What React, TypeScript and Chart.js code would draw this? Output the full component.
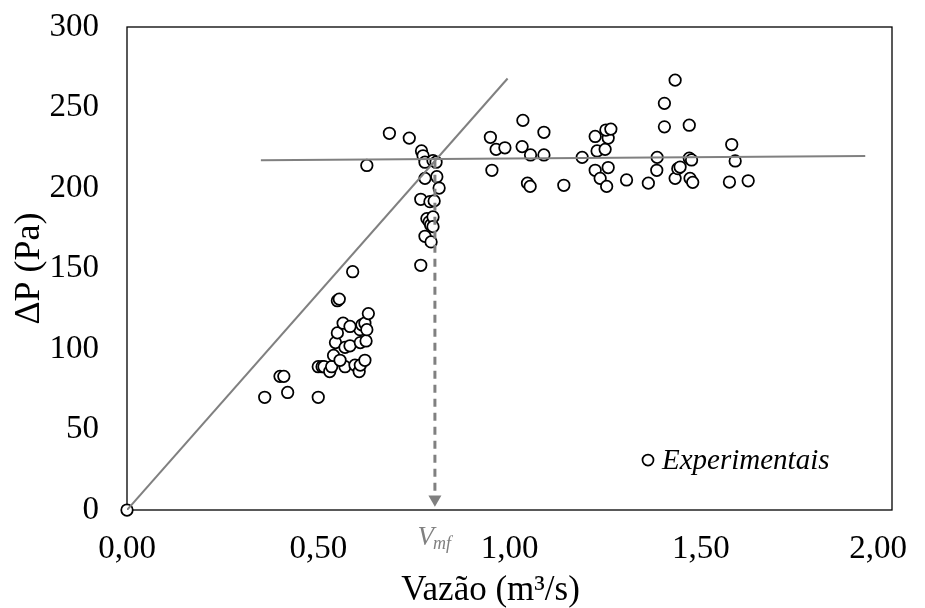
import React, { useEffect, useRef } from 'react';
import { Chart, registerables } from 'chart.js';

Chart.register(...registerables);

// Experimental points (flow rate m3/s, pressure drop Pa)
const expX = [
  0.0, 0.36, 0.40, 0.41, 0.42, 0.50, 0.50, 0.51, 0.515, 0.53, 0.535, 0.54, 0.545, 0.55, 0.55, 0.555,
  0.565, 0.57, 0.57, 0.557, 0.583, 0.59, 0.596, 0.607, 0.61, 0.622, 0.61, 0.625, 0.609, 0.614, 0.622,
  0.627, 0.631, 0.583, 0.627, 0.686, 0.738, 0.768, 0.77, 0.774, 0.779, 0.80, 0.808, 0.81, 0.779, 0.816,
  0.768, 0.792, 0.803, 0.784, 0.79, 0.794, 0.80, 0.80, 0.779, 0.795,
  0.95, 0.954, 0.965, 0.988, 1.035, 1.033, 1.055, 1.047, 1.054, 1.09, 1.09, 1.142, 1.19, 1.224, 1.229,
  1.224, 1.237, 1.254, 1.258, 1.25, 1.258, 1.252, 1.265, 1.306, 1.363, 1.385, 1.386, 1.405, 1.405,
  1.433, 1.433, 1.44, 1.446, 1.47, 1.47, 1.476, 1.472, 1.479, 1.581, 1.59, 1.575, 1.624,
];
const expY = [
  0, 70, 83, 83, 73, 70, 89, 89, 89, 86, 89, 96, 104, 110, 130, 131,
  116, 101, 89, 93, 102, 148, 90, 86, 90, 93, 104, 105, 112, 115, 116,
  112, 122, 114, 214, 234, 231, 152, 223, 220, 216, 217, 216, 207, 206, 200,
  193, 191.5, 192, 181, 179, 177, 182, 176, 170, 166.5,
  231.5, 211, 224, 225, 242, 225.7, 220.5, 203, 201, 234.6, 220.5, 201.7, 219, 232, 223,
  211, 206, 201, 212.7, 224, 231, 236, 236.6, 205, 203, 211, 219, 238, 252.6,
  267, 206, 212, 213, 239, 218.5, 217.4, 206, 203.5, 227, 216.8, 203.7, 204.5,
];

// Fitted lines
const linearX = [0, 0.995];
const linearY = [0, 268];
const plateauX = [0.35, 1.93];
const plateauY = [217.3, 219.8];

// Minimum fluidization flow marker
const vmfX = 0.805;
const vmfLineY = [217, 12];
const vmfArrowY = 6.7;

const xTicks = [0, 0.5, 1.0, 1.5, 2.0];
const yTicks = [0, 50, 100, 150, 200, 250, 300];
const xTitle = 'Vazão (m³/s)';
const yTitle = 'ΔP (Pa)';

const SERIF = "'Liberation Serif', 'Times New Roman', serif";
const GRAY = '#808080';

const pts = (xs: number[], ys: number[]) => xs.map((x, i) => ({ x, y: ys[i] }));
const fmtX = (v: number) => v.toFixed(2).replace('.', ',');

const decorPlugin = {
  id: 'decor',
  beforeDatasetsDraw(chart: any) {
    const { ctx, chartArea: a } = chart;
    ctx.save();
    ctx.strokeStyle = '#000';
    ctx.lineWidth = 1.3;
    ctx.strokeRect(a.left, a.top, a.right - a.left, a.bottom - a.top);
    ctx.restore();
  },
  afterDraw(chart: any) {
    const { ctx, chartArea: a, scales, width } = chart;
    ctx.save();
    // X tick labels (last one kept inside the canvas, as the spreadsheet does)
    ctx.fillStyle = '#000';
    ctx.font = `33px ${SERIF}`;
    ctx.textBaseline = 'middle';
    ctx.textAlign = 'left';
    xTicks.forEach((v) => {
      const label = fmtX(v);
      const w = ctx.measureText(label).width;
      let left = scales.x.getPixelForValue(v) - w / 2;
      if (left + w > width - 10) left = width - 10 - w;
      ctx.fillText(label, left, a.bottom + 39);
    });
    // X title
    ctx.font = `35px ${SERIF}`;
    ctx.textAlign = 'center';
    ctx.fillText(xTitle, (a.left + a.right) / 2 - 19, a.bottom + 81);
    // Vmf label
    const xp = scales.x.getPixelForValue(vmfX);
    ctx.fillStyle = GRAY;
    ctx.textBaseline = 'alphabetic';
    ctx.font = `italic 27px ${SERIF}`;
    ctx.textAlign = 'right';
    ctx.fillText('V', xp - 1, a.bottom + 35);
    ctx.font = `italic 18px ${SERIF}`;
    ctx.textAlign = 'left';
    ctx.fillText('mf', xp - 2, a.bottom + 39);
    // Legend
    const ds = chart.data.datasets.find((d: any) => d.label === 'Experimentais');
    const cx = a.right - 244;
    const cy = a.bottom - 50;
    ctx.beginPath();
    ctx.arc(cx, cy, 5.5, 0, Math.PI * 2);
    ctx.fillStyle = '#fff';
    ctx.fill();
    ctx.lineWidth = 1.75;
    ctx.strokeStyle = '#000';
    ctx.stroke();
    ctx.fillStyle = '#000';
    ctx.font = `italic 29px ${SERIF}`;
    ctx.textAlign = 'left';
    ctx.textBaseline = 'middle';
    ctx.fillText(ds ? ds.label : '', cx + 14, cy + 1);
    ctx.restore();
  },
};

export default function App() {
  const ref = useRef<HTMLCanvasElement | null>(null);
  useEffect(() => {
    document.documentElement.style.overflow = 'hidden';
    document.body.style.overflow = 'hidden';
    if (!ref.current) return;
    const chart = new Chart(ref.current, {
      type: 'scatter',
      data: {
        datasets: [
          {
            type: 'line',
            label: 'linear',
            data: pts(linearX, linearY),
            borderColor: GRAY,
            borderWidth: 2,
            pointRadius: 0,
            fill: false,
          } as any,
          {
            type: 'line',
            label: 'plateau',
            data: pts(plateauX, plateauY),
            borderColor: GRAY,
            borderWidth: 2,
            pointRadius: 0,
            fill: false,
          } as any,
          {
            type: 'line',
            label: 'vmf',
            data: pts([vmfX, vmfX], vmfLineY),
            borderColor: GRAY,
            borderWidth: 3,
            borderDash: [8, 6],
            pointRadius: 0,
            fill: false,
          } as any,
          {
            label: 'arrow',
            data: [{ x: vmfX, y: vmfArrowY }],
            pointStyle: 'triangle',
            rotation: 180,
            pointRadius: 7.5,
            backgroundColor: GRAY,
            borderColor: GRAY,
            borderWidth: 0,
          } as any,
          {
            label: 'Experimentais',
            data: pts(expX, expY),
            pointRadius: 5.75,
            borderWidth: 1.75,
            borderColor: '#000',
            backgroundColor: '#fff',
            clip: false,
          } as any,
        ],
      },
      options: {
        animation: false,
        responsive: false,
        maintainAspectRatio: false,
        layout: { padding: { left: 0, top: 19, right: 25, bottom: 0 } },
        plugins: { legend: { display: false }, tooltip: { enabled: false } },
        scales: {
          x: {
            type: 'linear',
            min: 0,
            max: 2,
            afterBuildTicks: (s: any) => { s.ticks = xTicks.map((v) => ({ value: v })); },
            afterFit: (s: any) => { s.height = 98; s.paddingLeft = 0; s.paddingRight = 0; },
            grid: { display: false },
            border: { display: false },
            ticks: { display: false },
            title: { display: false },
          },
          y: {
            type: 'linear',
            min: 0,
            max: 300,
            afterBuildTicks: (s: any) => { s.ticks = yTicks.map((v) => ({ value: v })); },
            afterFit: (s: any) => { s.width = 119; s.paddingTop = 0; s.paddingBottom = 0; },
            grid: { display: false },
            border: { display: false },
            ticks: {
              color: '#000',
              padding: 20,
              font: { family: SERIF, size: 33 },
            },
            title: {
              display: true,
              text: yTitle,
              color: '#000',
              font: { family: SERIF, size: 36, lineHeight: 1.2 },
              padding: { top: 0, bottom: 0 },
            },
          },
        },
      },
      plugins: [decorPlugin],
    });
    return () => chart.destroy();
  }, []);
  return (
    <div style={{ width: 909, height: 600 }}>
      <canvas ref={ref} width={909} height={600} style={{ display: 'block', width: 909, height: 600 }} />
    </div>
  );
}
